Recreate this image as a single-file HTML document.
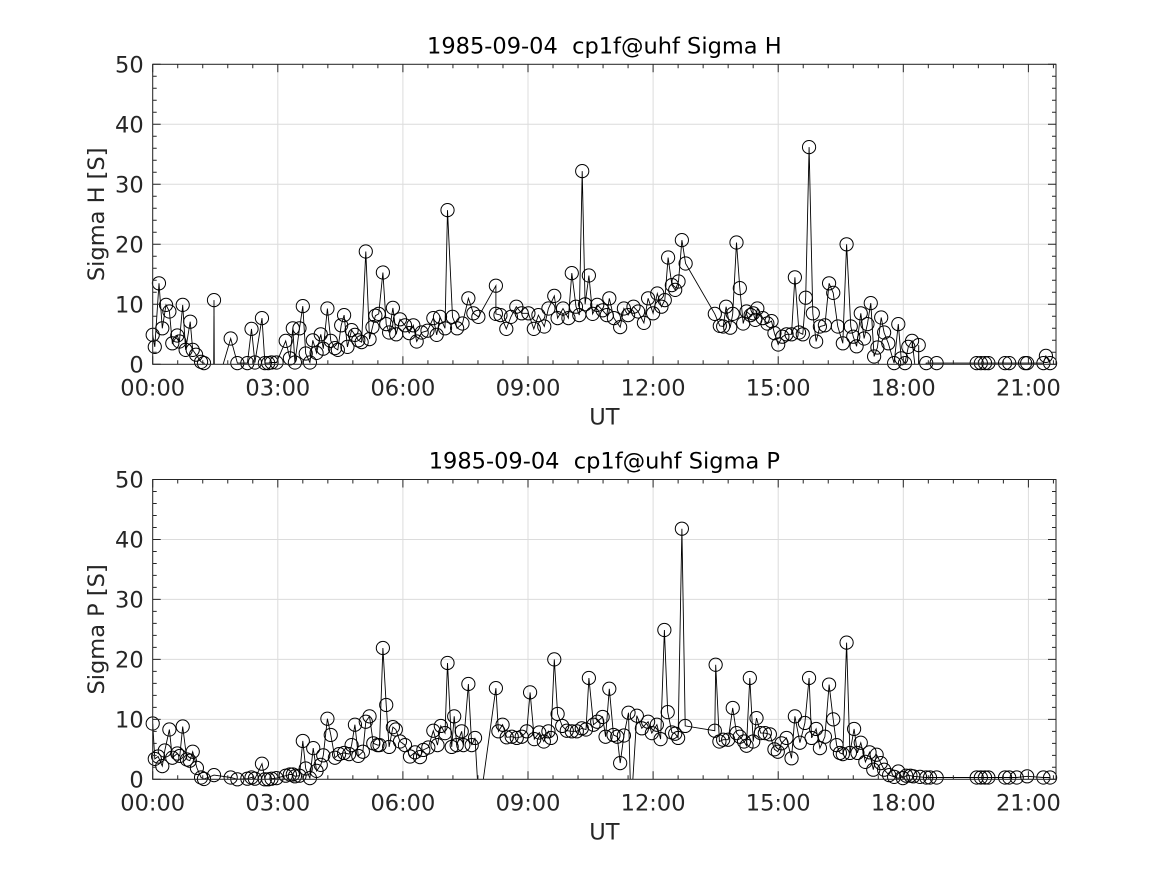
<!DOCTYPE html>
<html><head><meta charset="utf-8"><style>
html,body{margin:0;padding:0;background:#fff;}
svg{display:block;font-family:"DejaVu Sans","Liberation Sans",sans-serif;}
text{white-space:pre;}
</style></head><body>
<svg id="fig" width="1167" height="875" viewBox="0 0 1167 875" xmlns="http://www.w3.org/2000/svg">
<rect x="0" y="0" width="1167" height="875" fill="#fff"/>
</svg>
<script>
const xTickLabels = ["00:00","03:00","06:00","09:00","12:00","15:00","18:00","21:00"];
const xTickHours = [0,3,6,9,12,15,18,21];
const yTickValues = [0,10,20,30,40,50];
const titles = ["1985-09-04  cp1f@uhf Sigma H","1985-09-04  cp1f@uhf Sigma P"];
const yLabels = ["Sigma H [S]","Sigma P [S]"];

const hHours = [0,0.05,0.15,0.23,0.32,0.4,0.47,0.59,0.64,0.72,0.79,0.9,0.96,1.04,1.16,1.23,1.46,1.47,1.48,1.87,2.03,2.27,2.37,2.45,2.62,2.69,2.77,2.85,2.97,3.19,3.29,3.36,3.41,3.52,3.6,3.67,3.77,3.84,3.93,4.03,4.09,4.19,4.27,4.37,4.44,4.52,4.59,4.67,4.77,4.85,4.93,5.01,5.11,5.2,5.27,5.34,5.42,5.52,5.6,5.67,5.76,5.84,5.93,6.05,6.15,6.25,6.33,6.45,6.59,6.73,6.81,6.89,7.01,7.07,7.19,7.3,7.43,7.57,7.69,7.81,8.23,8.23,8.34,8.48,8.59,8.72,8.85,9.01,9.14,9.25,9.39,9.49,9.63,9.71,9.84,9.97,10.05,10.15,10.23,10.3,10.37,10.46,10.55,10.66,10.79,10.89,10.95,11.06,11.21,11.3,11.4,11.53,11.64,11.78,11.88,12.0,12.1,12.2,12.28,12.36,12.45,12.53,12.61,12.69,12.78,13.48,13.6,13.68,13.75,13.85,13.91,14.0,14.08,14.16,14.24,14.34,14.4,14.45,14.5,14.63,14.74,14.84,14.91,15.0,15.1,15.2,15.32,15.4,15.5,15.59,15.66,15.74,15.83,15.91,16.0,16.12,16.22,16.32,16.43,16.55,16.64,16.74,16.8,16.88,16.98,17.06,17.14,17.22,17.3,17.38,17.47,17.54,17.64,17.78,17.88,17.95,18.04,18.12,18.21,18.36,18.37,18.38,18.55,18.8,19.76,19.86,19.96,20.04,20.44,20.54,20.92,20.97,21.36,21.42,21.52];
const hValues = [4.9,2.9,13.5,6.0,9.9,8.8,3.5,4.8,3.8,9.9,2.4,7.1,2.4,1.6,0.4,0.2,-5,10.7,-5,4.3,0.2,0.2,5.9,0.3,7.7,0.2,0.2,0.3,0.3,3.9,1.0,6.0,0.3,6.0,9.7,1.8,0.3,4.0,1.9,5.0,2.6,9.3,3.9,2.7,2.4,6.5,8.2,2.9,5.7,4.9,4.0,3.7,18.8,4.2,6.2,8.1,8.4,15.3,6.7,5.3,9.4,5.0,7.5,6.5,5.2,6.5,3.8,5.3,5.6,7.7,4.9,7.9,6.0,25.7,7.9,6.0,6.8,11.0,8.5,7.9,13.1,8.4,8.2,5.9,7.9,9.6,8.5,8.5,5.9,8.2,6.3,9.3,11.4,7.7,9.3,7.7,15.2,9.6,8.2,32.2,10.0,14.8,8.4,9.9,9.0,8.2,11.0,7.7,6.2,9.3,8.2,9.6,8.8,6.9,11.0,8.5,11.8,9.6,10.7,17.8,13.2,12.4,13.8,20.7,16.8,8.4,6.4,6.3,9.6,6.1,8.4,20.3,12.7,6.8,8.8,8.2,8.5,7.4,9.3,7.7,6.8,7.2,5.2,3.3,4.6,5.0,5.0,14.5,5.3,5.0,11.1,36.2,8.5,3.8,6.3,6.5,13.5,11.9,6.3,3.5,20.0,6.3,4.6,3.0,8.5,4.3,6.7,10.2,1.3,2.8,7.8,5.3,3.5,0.2,6.7,1.0,0.2,2.9,3.9,-5,3.2,-5,0.2,0.2,0.2,0.2,0.2,0.2,0.2,0.2,0.2,0.2,0.2,1.4,0.2];

const pHours = [0,0.05,0.13,0.23,0.29,0.4,0.47,0.59,0.65,0.72,0.82,0.89,0.96,1.06,1.16,1.23,1.47,1.87,2.03,2.27,2.37,2.45,2.62,2.69,2.77,2.85,2.97,3.19,3.29,3.36,3.41,3.52,3.6,3.67,3.77,3.85,3.93,4.03,4.09,4.19,4.27,4.37,4.47,4.59,4.71,4.77,4.85,4.93,5.04,5.11,5.2,5.29,5.39,5.44,5.52,5.6,5.67,5.76,5.83,5.93,6.05,6.17,6.29,6.41,6.49,6.61,6.73,6.83,6.91,7.01,7.07,7.17,7.23,7.29,7.41,7.45,7.57,7.65,7.73,7.83,8.23,8.29,8.39,8.49,8.61,8.73,8.85,8.97,9.05,9.15,9.27,9.38,9.49,9.55,9.63,9.71,9.82,9.93,10.05,10.17,10.29,10.39,10.46,10.57,10.66,10.79,10.86,10.95,11.05,11.14,11.21,11.3,11.41,11.47,11.61,11.73,11.88,11.97,12.09,12.18,12.27,12.35,12.45,12.53,12.6,12.69,12.77,13.48,13.5,13.59,13.68,13.8,13.91,14.0,14.08,14.18,14.24,14.32,14.4,14.48,14.58,14.68,14.8,14.91,14.99,15.08,15.2,15.32,15.4,15.52,15.64,15.74,15.8,15.91,16.0,16.12,16.22,16.32,16.4,16.48,16.55,16.64,16.72,16.82,16.9,16.98,17.09,17.19,17.28,17.36,17.46,17.54,17.66,17.78,17.88,17.99,18.07,18.17,18.24,18.4,18.55,18.64,18.8,19.76,19.86,19.96,20.04,20.44,20.54,20.72,20.97,21.36,21.52];
const pValues = [9.3,3.4,3.8,2.2,4.8,8.3,3.6,4.3,3.9,8.8,3.3,3.1,4.6,1.9,0.3,0.05,0.7,0.3,0,0.1,0.3,0.1,2.6,0,0,0.1,0.2,0.6,0.8,0.8,0.5,0.6,6.4,1.8,0.2,5.2,1.4,2.4,4.0,10.1,7.4,3.6,4.2,4.4,4.2,5.7,9.1,3.9,4.6,9.6,10.5,6.0,5.7,5.7,21.9,12.4,5.4,8.7,8.3,6.3,5.7,3.8,4.5,3.7,4.9,5.3,8.1,5.7,8.9,7.7,19.4,5.4,10.5,5.7,8.0,5.7,15.9,5.7,6.9,-5,15.2,8.0,9.1,7.0,7.1,6.9,7.1,8.0,14.5,6.7,7.8,6.3,8.0,6.9,20.0,10.9,8.9,8.1,8.0,8.0,8.5,8.3,16.9,9.1,9.6,10.4,7.1,15.1,7.4,7.1,2.7,7.3,11.1,-5,10.6,8.5,9.6,7.7,9.1,6.7,24.9,11.2,7.8,7.6,6.9,41.8,8.9,8.1,19.1,6.3,6.6,6.6,11.9,7.7,7.1,6.3,5.6,16.9,6.3,10.2,7.7,7.7,7.5,5.0,4.6,6.0,6.9,3.5,10.5,6.1,9.4,16.9,6.9,8.4,5.2,7.1,15.8,10.0,5.7,4.4,4.2,22.8,4.4,8.4,4.4,6.1,2.9,4.5,1.6,4.1,2.7,1.6,0.7,0.4,1.3,0.2,0.6,0.6,0.5,0.4,0.3,0.3,0.3,0.3,0.3,0.3,0.3,0.3,0.3,0.3,0.5,0.3,0.3];

const NS = "http://www.w3.org/2000/svg";
const svg = document.getElementById("fig");
const X0 = 152.7, X1 = 1056, PXH = 41.7;
const panels = [{top:64.3, bot:364.3, hours:hHours, vals:hValues, name:"sigma-h"},
                {top:479.5, bot:779.3, hours:pHours, vals:pValues, name:"sigma-p"}];
function mk(tag, attrs, parent){ const e=document.createElementNS(NS,tag); for(const k in attrs) e.setAttribute(k,attrs[k]); (parent||svg).appendChild(e); return e; }

panels.forEach((p, pi) => {
  const xs = h => X0 + h*PXH;
  const ys = v => p.bot - v*(p.bot-p.top)/50;
  const g = mk("g",{});
  
  
  const clipId = "clip"+pi;
  const cp = mk("clipPath",{id:clipId}, g);
  mk("rect",{x:X0,y:p.top,width:X1-X0,height:p.bot-p.top}, cp);
  xTickHours.forEach(h => { const l = mk("line",{x1:xs(h),x2:xs(h),y1:p.top,y2:p.bot,stroke:"#dcdcdc","stroke-width":1},g);
      });
  yTickValues.forEach(v => { const l = mk("line",{x1:X0,x2:X1,y1:ys(v),y2:ys(v),stroke:"#dcdcdc","stroke-width":1},g);
      });
  const d = p.hours.map((h,i)=>(i?"L":"M")+xs(h).toFixed(1)+","+ys(p.vals[i]).toFixed(1)).join(" ");
  const line = mk("path",{d:d,fill:"none",stroke:"#000","stroke-width":0.9,"clip-path":"url(#"+clipId+")"},g);
  
  
  p.hours.forEach((h,i)=>{ if(p.vals[i] < 0) return;
    const c = mk("circle",{cx:xs(h),cy:ys(p.vals[i]),r:6.6,fill:"none",stroke:"#000","stroke-width":1},g);
    
     });
  const box = mk("rect",{x:X0,y:p.top,width:X1-X0,height:p.bot-p.top,fill:"none",stroke:"#262626","stroke-width":1},g);
   
  let tk = "";
  for(let m=0; xs(m*0.6) <= X1+0.5; m++){ const x = xs(m*0.6); const len = (m%5===0)?8:4;
    tk += `M${x},${p.bot}v${-len}M${x},${p.top}v${len}`; }
  for(let v=0; v<=50; v+=2){ const y = ys(v); const len = (v%10===0)?8:4;
    tk += `M${X0},${y}h${len}M${X1},${y}h${-len}`; }
  const ticks = mk("path",{d:tk,stroke:"#262626","stroke-width":1,fill:"none"},g);
   
  xTickHours.forEach((h,i)=>{ const t = mk("text",{x:xs(h),y:p.bot+31,"text-anchor":"middle","font-size":22.5,fill:"#262626"},g);
    t.textContent = xTickLabels[i];
      });
  yTickValues.forEach(v=>{ const t = mk("text",{x:X0-9,y:ys(v)+8,"text-anchor":"end","font-size":22.5,fill:"#262626"},g);
    t.textContent = v;
      });
  const tt = mk("text",{x:(X0+X1)/2,y:p.top-11,"text-anchor":"middle","font-size":22.5,fill:"#000","xml:space":"preserve"},g);
  tt.textContent = titles[pi];
   
  const xl = mk("text",{x:(X0+X1)/2,y:p.bot+60,"text-anchor":"middle","font-size":22.5,fill:"#262626"},g);
  xl.textContent = "UT";
   
  const cy = (p.top+p.bot)/2;
  const yl = mk("text",{x:0,y:0,"text-anchor":"middle","font-size":22.5,fill:"#262626",transform:`translate(104,${cy}) rotate(-90)`},g);
  yl.textContent = yLabels[pi];
   
});
</script>
</body></html>
